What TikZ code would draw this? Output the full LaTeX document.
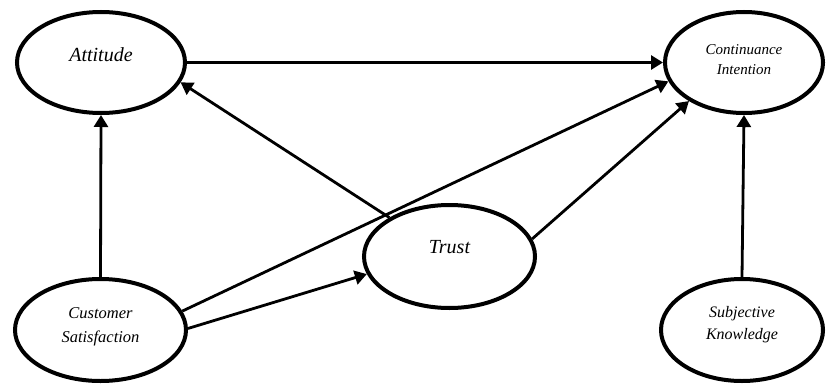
\documentclass[tikz,border=0pt]{standalone}
\usepackage{fontspec}
\setmainfont{Liberation Serif}
\usetikzlibrary{shapes.geometric,arrows.meta}
\begin{document}
\begin{tikzpicture}[x=1pt,y=-1pt,
  ell/.style={draw,ellipse,line width=4pt,inner sep=0pt},
  lab/.style={align=center,inner sep=0pt},
  arr/.style={line width=2.8pt,-{Triangle[length=12pt,width=14pt]}}]
\useasboundingbox (0,0) rectangle (826,385);
\node[ell,minimum width=168pt,minimum height=101pt] (att) at (101,62.5) {};
\node[ell,minimum width=158pt,minimum height=101pt] (ci) at (744,62.5) {};
\node[ell,minimum width=171pt,minimum height=103pt] (trust) at (449.5,256.5) {};
\node[ell,minimum width=171pt,minimum height=102pt] (cs) at (100.5,330) {};
\node[ell,minimum width=162pt,minimum height=102pt] (sk) at (742,330) {};
\node[lab,font=\fontsize{20}{24}\selectfont\itshape] (attl) at (101,55) {Attitude};
\node[lab,font=\fontsize{15}{20}\selectfont\itshape] (cil) at (744,60) {Continuance\\Intention};
\node[lab,font=\fontsize{20}{24}\selectfont\itshape] (trustl) at (449.5,247) {Trust};
\node[lab,font=\fontsize{16.5}{24}\selectfont\itshape] (csl) at (100.5,327) {Customer\\Satisfaction};
\node[lab,font=\fontsize{16}{22}\selectfont\itshape] (skl) at (742,325) {Subjective\\Knowledge};
\draw[arr] (att.east) -- (ci.west);
\draw[arr] (cs.north) -- (att.south);
\draw[arr] (sk.north) -- (ci.south);
\draw[arr] (trust) -- (att.-14);
\draw[arr] (cs.13.5) -- (ci.194);
\draw[arr] (trust.12.5) -- (ci.215);
\draw[arr] (cs.1) -- (trust.192.6);
\end{tikzpicture}
\end{document}
